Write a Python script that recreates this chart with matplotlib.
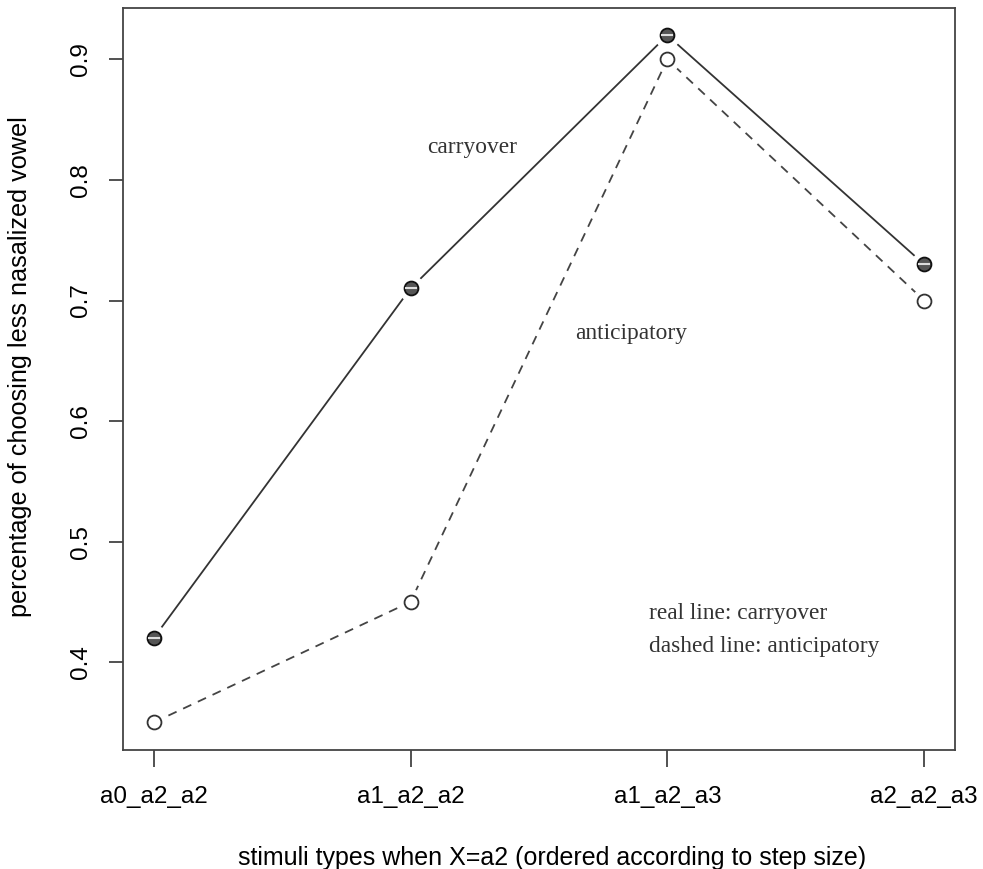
import numpy as np
import matplotlib
matplotlib.use('Agg')
from matplotlib import pyplot as plt

# stimuli types and percentages
stimuli = ['a0_a2_a2', 'a1_a2_a2', 'a1_a2_a3', 'a2_a2_a3']
carryover = [0.42, 0.71, 0.92, 0.73]
anticipatory = [0.35, 0.45, 0.90, 0.70]

plt.rcParams['font.family'] = ['Liberation Sans', 'DejaVu Sans']

fig = plt.figure(figsize=(9.83, 8.69), dpi=100)
ax = fig.add_axes([0.125, 0.137, 0.8465, 0.854])

x = np.arange(1, len(stimuli) + 1)

# lines, then white blobs to make the R type="b" gaps, then markers
ax.plot(x, carryover, '-', color='#333333', lw=1.3, zorder=1)
ax.plot(x, anticipatory, '--', color='#444444', lw=1.3, dashes=(5, 4), zorder=1)
ax.plot(x, carryover, 'o', ms=18, mfc='white', mec='white', zorder=2)
ax.plot(x, anticipatory, 'o', ms=18, mfc='white', mec='white', zorder=2)
ax.plot(x, carryover, 'o', ms=10, mfc='#555555', mec='#111111', mew=1.3, zorder=3)
ax.plot(x, carryover, '_', ms=8, color='#dddddd', mew=1.5, zorder=4)
ax.plot(x, anticipatory, 'o', ms=10, mfc='white', mec='#333333', mew=1.3, zorder=3)

ax.set_xlim(0.88, 4.12)
ax.set_ylim(0.3272, 0.9428)
ax.set_xticks(x)
ax.set_xticklabels(stimuli, fontsize=17.5)
ax.set_yticks([0.4, 0.5, 0.6, 0.7, 0.8, 0.9])
ax.set_yticklabels(['0.4', '0.5', '0.6', '0.7', '0.8', '0.9'], fontsize=17.5,
                   rotation=90, va='center')
ax.tick_params(axis='x', length=12, width=1.2, color='#333333', pad=14)
ax.tick_params(axis='y', length=10, width=1.2, color='#333333', pad=12)
for s in ax.spines.values():
    s.set_color('#444444')
    s.set_linewidth(1.3)

fig.text(552 / 983, 1 - 858 / 869, 'stimuli types when X=a2 (ordered according to step size)',
         fontsize=18, ha='center', va='center')
fig.text(20 / 983, 1 - 367 / 869, 'percentage of choosing less nasalized vowel',
         fontsize=18.2, ha='center', va='center', rotation=90)

serif = dict(family='Liberation Serif', fontsize=16.8, color='#333333')
ax.text(2.24, 0.827, 'carryover', ha='center', va='center', **serif)
ax.text(2.86, 0.673, 'anticipatory', ha='center', va='center', **serif)
ax.text(2.93, 0.440, 'real line: carryover', ha='left', va='center', **serif)
ax.text(2.93, 0.413, 'dashed line: anticipatory', ha='left', va='center', **serif)

plt.savefig('out.png', dpi=100)
